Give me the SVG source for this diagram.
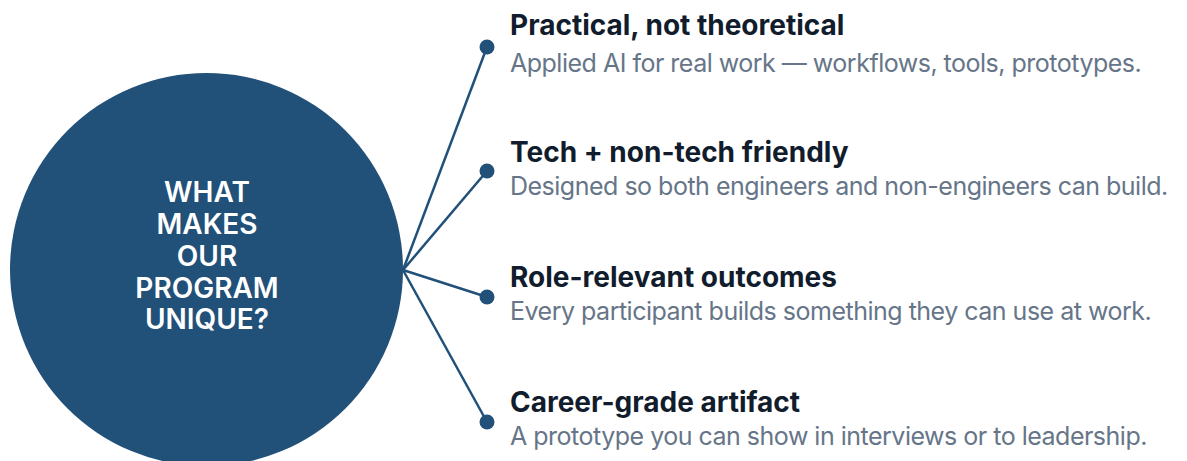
<svg xmlns="http://www.w3.org/2000/svg" width="1187" height="461" viewBox="0 0 1187 461">
<style>
.hub{fill:#215079}
.hubt{font-family:Inter,"Noto Sans",sans-serif;font-weight:600;font-size:28px;fill:#ffffff;text-anchor:middle}
.h{font-family:Inter,"Noto Sans",sans-serif;font-weight:700;font-size:28px;fill:#111c2d}
.s{font-family:Inter,"Noto Sans",sans-serif;font-weight:400;font-size:25px;letter-spacing:-0.5px;fill:#667588}
.ln{stroke:#215079;stroke-width:2.5;fill:none}
.dot{fill:#215079}
</style>
<rect width="1187" height="461" fill="#ffffff"/>
<g id="connectors">
<line class="ln" x1="403" y1="270" x2="487" y2="47"/>
<line class="ln" x1="403" y1="270" x2="487" y2="171"/>
<line class="ln" x1="403" y1="270" x2="487" y2="297"/>
<line class="ln" x1="403" y1="270" x2="487" y2="422"/>
</g>
<g id="hub">
<circle class="hub" cx="206.5" cy="269.5" r="196.5"/>
<text class="hubt" x="207" y="202">WHAT</text>
<text class="hubt" x="207" y="234">MAKES</text>
<text class="hubt" x="207" y="266">OUR</text>
<text class="hubt" x="207" y="297.5">PROGRAM</text>
<text class="hubt" x="207" y="328.5">UNIQUE?</text>
</g>
<g id="item1">
<circle class="dot" cx="487" cy="47" r="7.5"/>
<text class="h" x="510" y="35">Practical, not theoretical</text>
<text class="s" x="510" y="72">Applied AI for real work — workflows, tools, prototypes.</text>
</g>
<g id="item2">
<circle class="dot" cx="487" cy="171" r="7.5"/>
<text class="h" x="510" y="161.5">Tech + non-tech friendly</text>
<text class="s" x="510" y="195">Designed so both engineers and non-engineers can build.</text>
</g>
<g id="item3">
<circle class="dot" cx="487" cy="297" r="7.5"/>
<text class="h" x="510" y="286.5">Role-relevant outcomes</text>
<text class="s" x="510" y="320">Every participant builds something they can use at work.</text>
</g>
<g id="item4">
<circle class="dot" cx="487" cy="422" r="7.5"/>
<text class="h" x="510" y="411.5">Career-grade artifact</text>
<text class="s" x="510" y="445">A prototype you can show in interviews or to leadership.</text>
</g>
</svg>
